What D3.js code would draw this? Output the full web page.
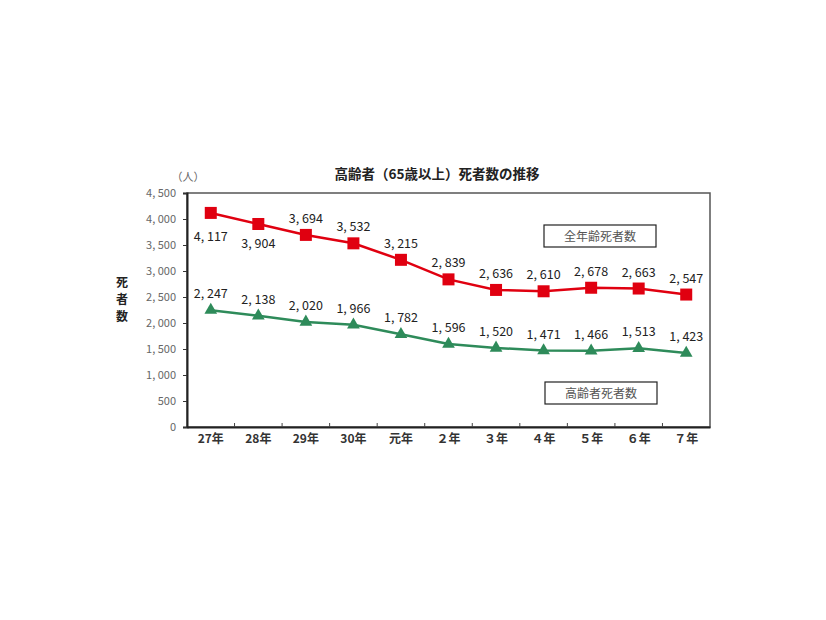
<!DOCTYPE html>
<html><head><meta charset="utf-8">
<script src="https://cdn.jsdelivr.net/npm/d3@7"></script>
<style>body{margin:0;background:#fff;}svg{display:block;}</style>
</head><body>
<script>
const categories = ["27年","28年","29年","30年","元年","２年","３年","４年","５年","６年","７年"];
const allAges = [4117,3904,3694,3532,3215,2839,2636,2610,2678,2663,2547];
const elderly = [2247,2138,2020,1966,1782,1596,1520,1471,1466,1513,1423];
const yTicks = [0,500,1000,1500,2000,2500,3000,3500,4000,4500];
const seriesNames = ["全年齢死者数","高齢者死者数"];
const title = "高齢者（65歳以上）死者数の推移";

const W=826,H=620;
const svg=d3.select("body").append("svg").attr("width",W).attr("height",H);
const L=187,R=710,T=193,B=427;
const x=d3.scaleBand().domain(categories).range([L,R]);
const y=d3.scaleLinear().domain([0,4500]).range([B,T]);
const font="'Noto Sans CJK JP','Noto Sans',sans-serif";
const fmt=d=>d3.format(",")(d).replace(",",", ");

// frame
svg.append("rect").attr("x",L).attr("y",T).attr("width",R-L).attr("height",B-T)
  .attr("fill","none").attr("stroke","#555").attr("stroke-width",1.5);
// y axis
const ya=svg.append("g").attr("transform",`translate(${L},0)`)
  .call(d3.axisLeft(y).tickValues(yTicks).tickSize(4).tickFormat(fmt));
ya.select(".domain").attr("stroke","#222").attr("stroke-width",2);
ya.selectAll("line").attr("stroke","#333");
ya.selectAll("text").attr("font-family",font).attr("font-size",11).attr("fill","#666").attr("dx",-4);
// x axis
const xa=svg.append("g").attr("transform",`translate(0,${B})`)
  .call(d3.axisBottom(x).tickSize(0).tickFormat(d=>d));
xa.select(".domain").attr("stroke","#222").attr("stroke-width",2);
xa.selectAll("text").attr("font-family",font).attr("font-size",12).attr("font-weight","bold").attr("fill","#333").attr("dy","1.1em");
// inner category boundary ticks
svg.append("g").selectAll("line").data(categories.slice(1)).join("line")
  .attr("x1",d=>x(d)).attr("x2",d=>x(d)).attr("y1",B).attr("y2",B-4).attr("stroke","#444");

// titles
svg.append("text").attr("x",437).attr("y",179).attr("text-anchor","middle")
  .attr("font-family",font).attr("font-size",13.5).attr("font-weight","bold").attr("fill","#222").text(title);
svg.append("text").attr("x",188).attr("y",181).attr("text-anchor","middle")
  .attr("font-family",font).attr("font-size",11).attr("fill","#666").text("（人）");
svg.append("g").selectAll("text").data(["死","者","数"]).join("text")
  .attr("x",122).attr("y",(d,i)=>287+i*17).attr("text-anchor","middle")
  .attr("font-family",font).attr("font-size",12).attr("font-weight","bold").attr("fill","#222").text(d=>d);

const cx=d=>x(d)+x.bandwidth()/2;
const line=d3.line().x((d,i)=>cx(categories[i])).y(d=>y(d));
const red="#e00010", green="#2e8b5a";
svg.append("path").datum(allAges).attr("d",line).attr("fill","none").attr("stroke",red).attr("stroke-width",2.5);
svg.append("path").datum(elderly).attr("d",line).attr("fill","none").attr("stroke",green).attr("stroke-width",2.5);
svg.append("g").selectAll("rect").data(allAges).join("rect")
  .attr("x",(d,i)=>cx(categories[i])-6).attr("y",d=>y(d)-6).attr("width",12).attr("height",12).attr("fill",red);
svg.append("g").selectAll("path").data(elderly).join("path")
  .attr("d",d3.symbol(d3.symbolTriangle,70)).attr("transform",(d,i)=>`translate(${cx(categories[i])},${y(d)})`).attr("fill",green);

// data labels (first two red labels sit below their markers)
const below=[true,true];
svg.append("g").selectAll("text").data(allAges).join("text")
  .attr("x",(d,i)=>cx(categories[i])).attr("y",(d,i)=>y(d)+(below[i]?(i===0?28:24):-12))
  .attr("text-anchor","middle").attr("font-family",font).attr("font-size",12.5).attr("fill","#222").text(fmt);
svg.append("g").selectAll("text").data(elderly).join("text")
  .attr("x",(d,i)=>cx(categories[i])).attr("y",d=>y(d)-12)
  .attr("text-anchor","middle").attr("font-family",font).attr("font-size",12.5).attr("fill","#222").text(fmt);

// legend boxes
const boxes=[{n:seriesNames[0],x:544,y:225},{n:seriesNames[1],x:545,y:382}];
boxes.forEach(b=>{
  svg.append("rect").attr("x",b.x).attr("y",b.y).attr("width",112).attr("height",22)
    .attr("fill","#fff").attr("stroke","#222").attr("stroke-width",1.2);
  svg.append("text").attr("x",b.x+56).attr("y",b.y+15.5).attr("text-anchor","middle")
    .attr("font-family",font).attr("font-size",12).attr("fill","#555").text(b.n);
});
</script>
</body></html>
